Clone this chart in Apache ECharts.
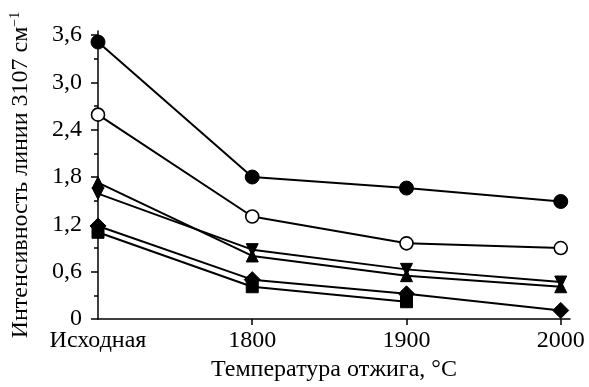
<!DOCTYPE html>
<html>
<head>
<meta charset="utf-8">
<script src="https://cdn.jsdelivr.net/npm/echarts@6/dist/echarts.min.js"></script>
<style>
html,body{margin:0;padding:0;background:#fff;}
#chart{width:589px;height:387px;}
</style>
</head>
<body>
<div id="chart"></div>
<script>
var categories = ['Исходная', '1800', '1900', '2000'];
var filledCircle = [3.51, 1.80, 1.66, 1.49];
var openCircle = [2.59, 1.30, 0.96, 0.90];
var downTriangle = [1.59, 0.88, 0.63, 0.47];
var upTriangle = [1.73, 0.80, 0.55, 0.41];
var diamond = [1.18, 0.50, 0.32, 0.11];
var square = [1.10, 0.41, 0.22, null];
var yTicks = [0, 0.6, 1.2, 1.8, 2.4, 3.0, 3.6];

function pts(arr) {
  var out = [];
  arr.forEach(function (v, i) { if (v !== null) out.push([i, v]); });
  return out;
}

var font = 'Liberation Serif';
function mk(data, symbol, size, extra) {
  var s = {
    type: 'line',
    data: pts(data),
    symbol: symbol,
    symbolSize: size,
    showAllSymbol: true,
    lineStyle: { color: '#000', width: 2 },
    itemStyle: { color: '#000', borderColor: '#000' },
    animation: false,
    z: 2
  };
  if (extra) for (var k in extra) s[k] = extra[k];
  return s;
}

var chart = echarts.init(document.getElementById('chart'), null, { renderer: 'canvas' });
chart.setOption({
  backgroundColor: '#fff',
  animation: false,
  grid: { left: 93, right: 19, top: 31, bottom: 67 },
  xAxis: {
    type: 'value',
    min: 0,
    max: 3.06,
    interval: 1,
    name: 'Температура отжига, °С',
    nameLocation: 'middle',
    nameGap: 37,
    nameTextStyle: { fontFamily: font, fontSize: 24, color: '#000' },
    axisLine: { show: true, lineStyle: { color: '#000', width: 1.5 } },
    axisTick: { show: true, length: 6, inside: false, lineStyle: { color: '#000', width: 1.5 }, customValues: [1, 2, 3] },
    axisLabel: {
      fontFamily: font, fontSize: 24, color: '#000', margin: 10,
      customValues: [0, 1, 2, 3],
      formatter: function (v) { return categories[Math.round(v)]; }
    },
    splitLine: { show: false }
  },
  yAxis: {
    type: 'value',
    min: 0,
    max: 3.65,
    interval: 0.6,
    name: '{a|Интенсивность линии 3107 см}{s|−1}',
    nameLocation: 'middle',
    nameGap: 64,
    nameRotate: 90,
    nameTextStyle: {
      rich: {
        a: { fontFamily: font, fontSize: 24, color: '#000' },
        s: { fontFamily: font, fontSize: 14, color: '#000', verticalAlign: 'top', padding: [0, 0, 12, 0] }
      }
    },
    axisLine: { show: true, lineStyle: { color: '#000', width: 1.5 } },
    axisTick: { show: true, length: 7, inside: false, lineStyle: { color: '#000', width: 1.5 }, customValues: yTicks },
    minorTick: { show: true, splitNumber: 2, length: 4, lineStyle: { color: '#000', width: 1.5 } },
    axisLabel: {
      fontFamily: font, fontSize: 24, color: '#000', margin: 16,
      customValues: yTicks,
      formatter: function (v) { return v === 0 ? '0' : v.toFixed(1).replace('.', ','); }
    },
    splitLine: { show: false },
    minorSplitLine: { show: false }
  },
  series: [
    mk(filledCircle, 'circle', 14),
    mk(openCircle, 'circle', 13, { itemStyle: { color: '#fff', borderColor: '#000', borderWidth: 1.6 } }),
    mk(downTriangle, 'triangle', 12, { symbolRotate: 180 }),
    mk(upTriangle, 'triangle', 12),
    mk(diamond, 'diamond', 16),
    mk(square, 'rect', 12)
  ]
});
</script>
</body>
</html>
